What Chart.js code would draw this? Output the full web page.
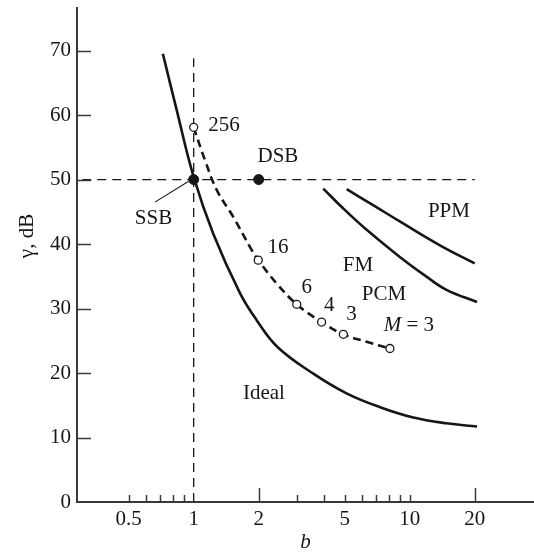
<!DOCTYPE html>
<html>
<head>
<meta charset="utf-8">
<script src="https://cdn.jsdelivr.net/npm/chart.js@4/dist/chart.umd.min.js"></script>
<style>body{margin:0;background:#fff}</style>
</head>
<body>
<canvas id="myChart" width="534" height="552"></canvas>
<script>
// curves: b (bandwidth ratio) vs gamma in dB
var idealB     = [0.72, 0.834, 1.0, 1.232, 1.638, 1.957, 2.45, 3.58, 5.1, 7.29, 10.4, 14.8, 20.5];
var idealGamma = [69.5, 60.8, 50.4, 41.6, 32.4, 28.2, 24.0, 19.9, 16.85, 14.7, 13.1, 12.2, 11.7];

var pcmB     = [1.0, 1.128, 1.278, 1.525, 1.855, 1.99, 2.42, 3.0, 3.91, 4.93, 6.32, 8.1];
var pcmGamma = [58.1, 53.0, 48.4, 44.2, 39.1, 37.5, 33.9, 30.65, 27.9, 26.0, 24.85, 23.8];

var pcmMarkB      = [1.0, 1.99, 3.0, 3.91, 4.93, 8.1];
var pcmMarkGamma  = [58.1, 37.5, 30.65, 27.9, 26.0, 23.8];

var fmB     = [3.98, 4.93, 6.32, 9.0, 12.0, 14.8, 20.5];
var fmGamma = [48.6, 45.5, 42.2, 38.0, 34.9, 32.9, 31.0];

var ppmB     = [5.11, 6.8, 9.0, 13.8, 20.0];
var ppmGamma = [48.5, 46.0, 43.5, 39.8, 37.0];

var refB     = [1, 2];      // SSB, DSB
var refGamma = [50, 50];

var hLineB = [0.305, 20], hLineGamma = [50, 50];
var vLineB = [1, 1],      vLineGamma = [0, 68.8];
var leaderB = [0.662, 0.944], leaderGamma = [46.5, 49.7];

var xTickValues = [0.5, 0.6, 0.7, 0.8, 0.9, 1, 2, 3, 4, 5, 6, 7, 8, 9, 10, 20];
var xLabelValues = [0.5, 1, 2, 5, 10, 20];
var xLongTicks = [2, 20];
var yTickValues = [0, 10, 20, 30, 40, 50, 60, 70];

// text labels placed in data coordinates
var notes = [
  {t: '256', b: 1.381, g: 58.4},
  {t: '16', b: 2.455, g: 39.5},
  {t: '6', b: 3.335, g: 33.2},
  {t: '4', b: 4.24, g: 30.4},
  {t: '3', b: 5.38, g: 29.1},
  {t: 'FM', b: 5.76, g: 36.7},
  {t: 'PCM', b: 7.6, g: 32.1},
  {t: 'PPM', b: 15.2, g: 45.0},
  {t: 'Ideal', b: 2.115, g: 16.9},
  {t: 'DSB', b: 2.455, g: 53.5},
  {t: 'SSB', b: 0.652, g: 44.0}
];
var mNote = {b: 9.92, g: 27.4};

var ink = '#161616';
var axisColor = '#3a3a3a';
var serif = '"Liberation Serif", "DejaVu Serif", serif';

function pts(xs, ys) {
  return xs.map(function(v, i) { return {x: v, y: ys[i]}; });
}

function noPad(scale) {
  scale.paddingTop = 0;
  scale.paddingBottom = 0;
  scale.paddingLeft = 0;
  scale.paddingRight = 0;
}

var inkPlugin = {
  id: 'ink',
  afterDraw: function(chart) {
    var ctx = chart.ctx, x = chart.scales.x, y = chart.scales.y, area = chart.chartArea;
    ctx.save();
    ctx.strokeStyle = axisColor;
    ctx.lineWidth = 1.5;
    xTickValues.forEach(function(v) {
      if (v === 1) return;
      var px = Math.round(x.getPixelForValue(v)) + 0.5;
      var len = xLongTicks.indexOf(v) >= 0 ? 14 : 7;
      ctx.beginPath();
      ctx.moveTo(px, area.bottom);
      ctx.lineTo(px, area.bottom - len);
      ctx.stroke();
    });
    yTickValues.forEach(function(v) {
      if (v === 0) return;
      var py = Math.round(y.getPixelForValue(v)) + 0.5;
      ctx.beginPath();
      ctx.moveTo(area.left, py);
      ctx.lineTo(area.left + 14, py);
      ctx.stroke();
    });

    ctx.fillStyle = ink;
    ctx.font = '21px ' + serif;
    ctx.textAlign = 'center';
    ctx.textBaseline = 'middle';
    notes.forEach(function(n) {
      ctx.fillText(n.t, x.getPixelForValue(n.b), y.getPixelForValue(n.g));
    });

    // "M = 3" with italic M
    var mx = x.getPixelForValue(mNote.b), my = y.getPixelForValue(mNote.g);
    ctx.font = 'italic 21px ' + serif;
    var w1 = ctx.measureText('M').width;
    ctx.font = '21px ' + serif;
    var w2 = ctx.measureText(' = 3').width;
    var sx = mx - (w1 + w2) / 2;
    ctx.textAlign = 'left';
    ctx.font = 'italic 21px ' + serif;
    ctx.fillText('M', sx, my);
    ctx.font = '21px ' + serif;
    ctx.fillText(' = 3', sx + w1, my);

    // axis titles
    ctx.textAlign = 'center';
    ctx.font = 'italic 21px ' + serif;
    ctx.fillText('b', (area.left + area.right) / 2, 542);
    ctx.translate(27, 236);
    ctx.rotate(-Math.PI / 2);
    ctx.font = '21px ' + serif;
    ctx.fillText('\u03b3, dB', 0, 0);
    ctx.restore();
  }
};

var ctx = document.getElementById('myChart').getContext('2d');
var chart = new Chart(ctx, {
  type: 'line',
  data: {
    datasets: [{
      data: pts(pcmMarkB, pcmMarkGamma),
      showLine: false,
      pointRadius: 4,
      pointBackgroundColor: '#fff',
      pointBorderColor: ink,
      pointBorderWidth: 1.3
    }, {
      data: pts(refB, refGamma),
      showLine: false,
      pointRadius: 5,
      pointBackgroundColor: ink,
      pointBorderColor: ink,
      pointBorderWidth: 1
    }, {
      data: pts(pcmB, pcmGamma),
      borderColor: ink,
      borderWidth: 2.6,
      borderDash: [8, 5],
      pointRadius: 0,
      tension: 0.4
    }, {
      data: pts(idealB, idealGamma),
      borderColor: ink,
      borderWidth: 2.6,
      pointRadius: 0,
      tension: 0.4
    }, {
      data: pts(fmB, fmGamma),
      borderColor: ink,
      borderWidth: 2.6,
      pointRadius: 0,
      tension: 0.4
    }, {
      data: pts(ppmB, ppmGamma),
      borderColor: ink,
      borderWidth: 2.6,
      pointRadius: 0,
      tension: 0.4
    }, {
      data: pts(hLineB, hLineGamma),
      borderColor: ink,
      borderWidth: 1.3,
      borderDash: [9, 6],
      pointRadius: 0
    }, {
      data: pts(vLineB, vLineGamma),
      borderColor: ink,
      borderWidth: 1.3,
      borderDash: [9, 6],
      pointRadius: 0
    }, {
      data: pts(leaderB, leaderGamma),
      borderColor: ink,
      borderWidth: 1.1,
      pointRadius: 0
    }]
  },
  options: {
    responsive: false,
    animation: false,
    devicePixelRatio: 1,
    layout: {autoPadding: false, padding: {top: 8, right: 0, left: 0, bottom: 0}},
    plugins: {legend: {display: false}, tooltip: {enabled: false}},
    scales: {
      x: {
        type: 'logarithmic',
        min: 0.2883,
        max: 37.63,
        afterBuildTicks: function(scale) {
          scale.ticks = xTickValues.map(function(v) { return {value: v}; });
        },
        afterFit: function(scale) { scale.height = 50; noPad(scale); },
        grid: {display: false, drawTicks: false},
        border: {display: true, color: axisColor, width: 2},
        ticks: {
          autoSkip: false,
          maxRotation: 0,
          padding: 5,
          color: ink,
          font: {family: serif, size: 21},
          callback: function(v) { return xLabelValues.indexOf(v) >= 0 ? String(v) : ''; }
        }
      },
      y: {
        type: 'linear',
        min: 0,
        max: 76.6,
        afterBuildTicks: function(scale) {
          scale.ticks = yTickValues.map(function(v) { return {value: v}; });
        },
        afterFit: function(scale) { scale.width = 77; noPad(scale); },
        grid: {display: false, drawTicks: false},
        border: {display: true, color: axisColor, width: 2},
        ticks: {
          padding: 6,
          color: ink,
          font: {family: serif, size: 21}
        }
      }
    }
  },
  plugins: [inkPlugin]
});
</script>
</body>
</html>
